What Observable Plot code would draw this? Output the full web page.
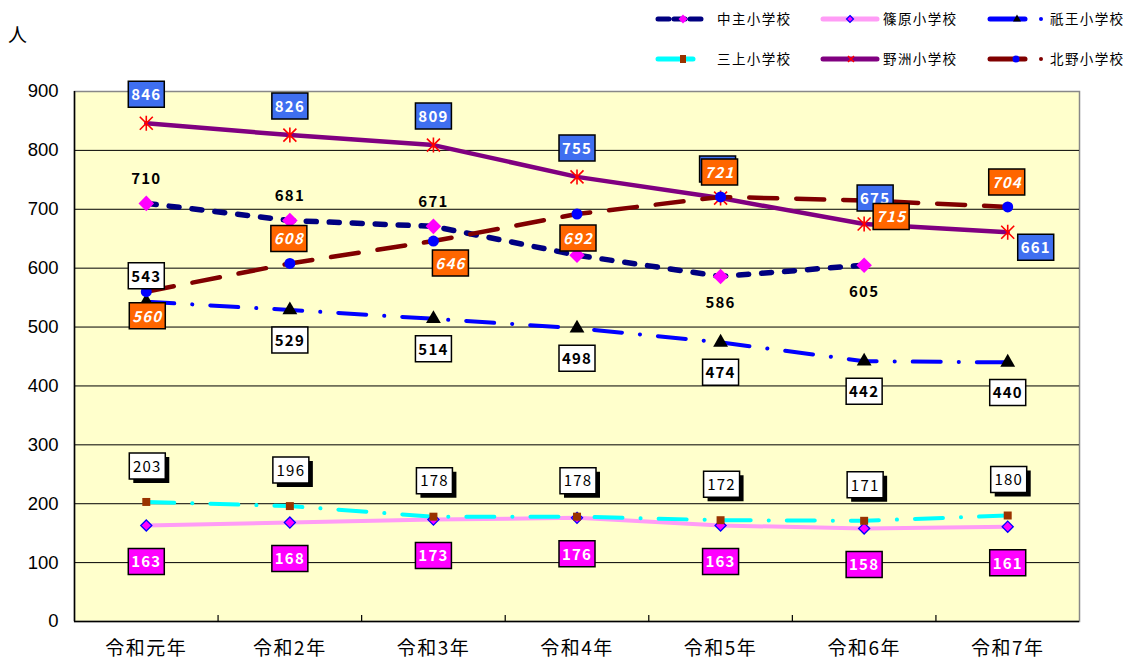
<!DOCTYPE html>
<html>
<head>
<meta charset="utf-8">
<script src="https://cdn.jsdelivr.net/npm/d3@7"></script>
<script src="https://cdn.jsdelivr.net/npm/@observablehq/plot@0.6"></script>
<style>
  body { margin: 0; background: #fff; font-family: "Noto Sans CJK JP", sans-serif; }
  #wrap { position: relative; width: 1130px; height: 661px; overflow: hidden; }
  #wrap > svg.chart { position: absolute; left: 0; top: 0; }
  #legend { position: absolute; left: 0; top: 0; }
  #unit { position: absolute; left: 8px; top: 20px; font-size: 19px; font-family: "Noto Sans CJK JP", sans-serif; }
  g[aria-label="text"] text { letter-spacing: 1.2px; }
  g[aria-label="x-axis tick label"] text { letter-spacing: 1.5px; }
</style>
</head>
<body>
<div id="wrap"><div id="unit">人</div></div>
<script>
// ---------- data ----------
const categories = ["令和元年", "令和2年", "令和3年", "令和4年", "令和5年", "令和6年", "令和7年"];
const yTicks = [0, 100, 200, 300, 400, 500, 600, 700, 800, 900];
const seriesNames = ["中主小学校", "篠原小学校", "祇王小学校", "三上小学校", "野洲小学校", "北野小学校"];
const nakasu    = [710, 681, 671, 622, 586, 605, null];
const shinohara = [163, 168, 173, 176, 163, 158, 161];
const gio       = [543, 529, 514, 498, 474, 442, 440];
const mikami    = [203, 196, 178, 178, 172, 171, 180];
const yasu      = [846, 826, 809, 755, 719, 675, 661];
const kitano    = [560, 608, 646, 692, 721, 715, 704];

// ---------- label placement (layout) ----------
// "hidden" = the label is covered by another box in the original (box only / nothing shown)
const placeNakasu    = ["above", "above", "above", "hidden", "below", "below", null];
const placeShinohara = ["below", "below", "below", "below", "below", "below", "below"];
const placeGio       = ["above", "below", "below", "below", "below", "below", "below"];
const placeMikami    = ["above", "above", "above", "above", "above", "above", "above"];
const placeYasu      = ["above", "above", "above", "above", "behind", "aboveRight", "belowRight"];
const placeKitano    = ["below", "above", "belowRight", "below", "above", "right", "above"];

const offsets = {
  nakasu:    {above: [0, -25], below: [0, 26]},
  shinohara: {below: [0, 36]},
  gio:       {above: [0, -26], below: [0, 30]},
  mikami:    {above: [1, -36]},
  yasu:      {above: [0, -29], behind: [-3, -29], aboveRight: [11, -26], belowRight: [28, 15]},
  kitano:    {below: [1, 24], above: [-1, -25], belowRight: [17, 22], right: [27, 16]}
};
const boxOnly = {behind: true};

// ---------- styles ----------
const font = "'Noto Sans CJK JP', sans-serif";
const boxW = 36, boxH = 26;
const boxSymbol = {
  draw(ctx) {
    ctx.moveTo(-boxW / 2, -boxH / 2);
    ctx.lineTo(boxW / 2, -boxH / 2);
    ctx.lineTo(boxW / 2, boxH / 2);
    ctx.lineTo(-boxW / 2, boxH / 2);
    ctx.closePath();
  }
};
const starSymbol = {
  draw(ctx) {
    const a = 6.5, b = 7.5;
    ctx.moveTo(-a, -a); ctx.lineTo(a, a);
    ctx.moveTo(a, -a); ctx.lineTo(-a, a);
    ctx.moveTo(0, -b); ctx.lineTo(0, b);
  }
};

const S = {
  nakasu:    {name: seriesNames[0], stroke: "#000080", width: 5.5, dash: "10,13",
              dot: {symbol: "diamond2", r: 7, fill: "#ff00ff", stroke: "none"},
              label: {box: null, color: "#000", weight: "bold", italic: false}},
  shinohara: {name: seriesNames[1], stroke: "#ff9cf6", width: 4, dash: null,
              dot: {symbol: "diamond2", r: 5, fill: "#ff00ff", stroke: "#0000ff", strokeWidth: 1.3},
              label: {box: "#ff00ff", color: "#fff", weight: "bold", italic: false}},
  gio:       {name: seriesNames[2], stroke: "#0000ff", width: 4, dash: "28,18,0.1,18",
              dot: {symbol: "triangle", r: 5.5, fill: "#000", stroke: "none"},
              label: {box: "#fff", color: "#000", weight: "bold", italic: false}},
  mikami:    {name: seriesNames[3], stroke: "#00ffff", width: 4, dash: "28,18,0.1,18",
              dot: {symbol: "square", r: 4.5, fill: "#993300", stroke: "none"},
              label: {box: "#fff", color: "#000", weight: "normal", italic: false, shadow: true}},
  yasu:      {name: seriesNames[4], stroke: "#800080", width: 4.5, dash: null,
              dot: {symbol: starSymbol, r: 7, fill: "none", stroke: "#ff0000", strokeWidth: 1.6},
              label: {box: "#3f6ff0", color: "#fff", weight: "bold", italic: false}},
  kitano:    {name: seriesNames[5], stroke: "#800000", width: 4.5, dash: "28,19",
              dot: {symbol: "circle", r: 5.5, fill: "#0000ff", stroke: "none"},
              label: {box: "#ff6600", color: "#fff", weight: "bold", italic: true}}
};

const seriesValues = {nakasu, shinohara, gio, mikami, yasu, kitano};
const seriesPlaces = {nakasu: placeNakasu, shinohara: placeShinohara, gio: placeGio,
                      mikami: placeMikami, yasu: placeYasu, kitano: placeKitano};

function rows(key) {
  return seriesValues[key].map((v, i) => ({i, value: v, place: seriesPlaces[key][i]}));
}

function lineMark(key) {
  const s = S[key];
  return Plot.line(rows(key), {
    x: "i", y: "value", stroke: s.stroke, strokeWidth: s.width,
    strokeDasharray: s.dash || undefined, strokeLinecap: "round", strokeLinejoin: "round"
  });
}

function dotMark(key) {
  const s = S[key];
  return Plot.dot(rows(key).filter(d => d.value != null), {
    x: "i", y: "value", symbol: s.dot.symbol, r: s.dot.r, fill: s.dot.fill,
    stroke: s.dot.stroke, strokeWidth: s.dot.strokeWidth || 1
  });
}

function labelMarks(key) {
  const s = S[key];
  const data = rows(key).filter(d => d.value != null && d.place);
  const marks = [];
  for (const [place, [dx, dy]] of Object.entries(offsets[key])) {
    const sub = data.filter(d => d.place === place);
    if (!sub.length) continue;
    if (s.label.box) {
      if (s.label.shadow) {
        marks.push(Plot.dot(sub, {x: "i", y: "value", symbol: boxSymbol, r: 10, fill: "#000",
          stroke: "none", dx: dx + 4, dy: dy + 4}));
      }
      marks.push(Plot.dot(sub, {x: "i", y: "value", symbol: boxSymbol, r: 10, fill: s.label.box,
        stroke: "#000", strokeWidth: 1.5, dx, dy}));
    }
    if (boxOnly[place]) continue;
    marks.push(Plot.text(sub, {
      x: "i", y: "value", text: d => String(d.value), dx, dy: dy + 1,
      fill: s.label.color, fontSize: 15, fontWeight: s.label.weight,
      fontStyle: s.label.italic ? "italic" : "normal", fontFamily: font
    }));
  }
  return marks;
}

const lineOrder = ["shinohara", "mikami", "gio", "yasu", "nakasu", "kitano"];
const dotOrder = ["shinohara", "mikami", "gio", "yasu", "nakasu", "kitano"];
const labelOrder = ["nakasu", "shinohara", "gio", "mikami", "yasu", "kitano"];
const boundaries = d3.range(categories.length - 1).map(i => i + 0.5);

const chart = Plot.plot({
  width: 1130, height: 661,
  marginLeft: 74, marginRight: 51, marginTop: 91, marginBottom: 40,
  x: {type: "linear", domain: [-0.5, categories.length - 0.5]},
  y: {domain: [0, 900]},
  style: {fontFamily: font, background: "transparent", overflow: "visible"},
  marks: [
    Plot.frame({fill: "#ffffcc", stroke: "#888888", strokeWidth: 1.5}),
    Plot.ruleY(yTicks.filter(t => t > 0 && t < 900), {stroke: "#000", strokeWidth: 1}),
    Plot.tickX(boundaries, {x: d => d, insetTop: 524, stroke: "#000", strokeWidth: 1.2}),
    Plot.ruleY([0], {stroke: "#000", strokeWidth: 1.5}),
    Plot.ruleX([-0.5], {stroke: "#000", strokeWidth: 1.5}),
    Plot.axisY({ticks: yTicks, tickSize: 0, tickPadding: 16, fontSize: 18.5, label: null,
                fontFamily: "'Liberation Sans', Arial, sans-serif"}),
    Plot.axisX({ticks: d3.range(categories.length), tickFormat: i => categories[i],
                tickSize: 0, tickPadding: 20, fontSize: 19, label: null, fontFamily: font}),
    ...lineOrder.map(lineMark),
    ...dotOrder.map(dotMark),
    ...labelOrder.flatMap(labelMarks)
  ]
});
chart.classList.add("chart");
document.getElementById("wrap").appendChild(chart);

// ---------- legend (top right) ----------
const legendLayout = [
  {key: "nakasu",    x1: 658, x2: 706, mx: 683, tx: 717, y: 19, extra: false, dash: "11,5"},
  {key: "shinohara", x1: 823, x2: 877, mx: 850, tx: 883, y: 19, extra: false, dash: null},
  {key: "gio",       x1: 990, x2: 1025, mx: 1017, tx: 1050, y: 19, extra: true, dash: null},
  {key: "mikami",    x1: 658, x2: 693, mx: 683, tx: 717, y: 59, extra: false, dash: null},
  {key: "yasu",      x1: 823, x2: 877, mx: 851, tx: 883, y: 59, extra: false, dash: null},
  {key: "kitano",    x1: 990, x2: 1025, mx: 1016, tx: 1050, y: 59, extra: true, dash: null}
];
const legendMarker = {
  nakasu:    (x, y) => `<path d="M${x},${y-4.5}L${x+4.5},${y}L${x},${y+4.5}L${x-4.5},${y}Z" fill="#ff00ff"/>`,
  shinohara: (x, y) => `<path d="M${x},${y-3.5}L${x+3.5},${y}L${x},${y+3.5}L${x-3.5},${y}Z" fill="#ff00ff" stroke="#0000ff" stroke-width="1.2"/>`,
  gio:       (x, y) => `<path d="M${x},${y-4.5}L${x+4},${y+2.5}L${x-4},${y+2.5}Z" fill="#000"/>`,
  mikami:    (x, y) => `<rect x="${x-3}" y="${y-4}" width="6" height="8" fill="#993300"/>`,
  yasu:      (x, y) => `<path d="M${x-3},${y-3}L${x+3},${y+3}M${x+3},${y-3}L${x-3},${y+3}" stroke="#ff0000" stroke-width="1.5"/>`,
  kitano:    (x, y) => `<circle cx="${x}" cy="${y}" r="3.5" fill="#0000ff"/>`
};
let lg = `<svg id="legend" width="1130" height="80" xmlns="http://www.w3.org/2000/svg">`;
for (const it of legendLayout) {
  const s = S[it.key];
  lg += `<line x1="${it.x1}" y1="${it.y}" x2="${it.x2}" y2="${it.y}" stroke="${s.stroke}" stroke-width="5" stroke-linecap="round"${it.dash ? ` stroke-dasharray="${it.dash}"` : ""}/>`;
  lg += legendMarker[it.key](it.mx, it.y);
  if (it.extra) lg += `<circle cx="1041" cy="${it.y}" r="2" fill="${s.stroke}"/>`;
  lg += `<text x="${it.tx}" y="${it.y}" dy="0.36em" font-size="13.5" letter-spacing="1.4" font-family="${font.replace(/'/g, "")}" fill="#000">${s.name}</text>`;
}
lg += `</svg>`;
document.getElementById("wrap").insertAdjacentHTML("beforeend", lg);
</script>
</body>
</html>
